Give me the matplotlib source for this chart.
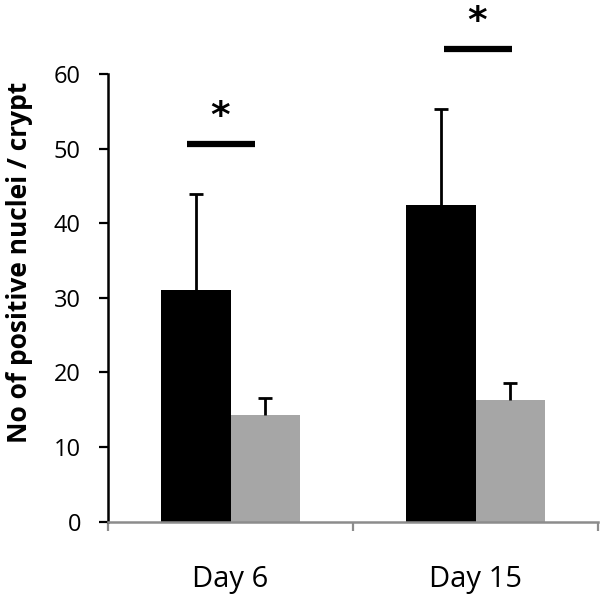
import numpy as np
import matplotlib.pyplot as plt

# dati
giorni = ['Day 6', 'Day 15']
neri = [31.0, 42.4]
neri_err = [12.9, 12.9]
grigi = [14.3, 16.3]
grigi_err = [2.3, 2.3]

# barre di significatività: (inizio, fine, altezza)
sig_x0 = [-0.176, 0.873]
sig_x1 = [0.098, 1.150]
sig_y = [50.6, 63.4]

plt.rcParams['font.family'] = ['Open Sans', 'DejaVu Sans']

fig = plt.figure(figsize=(6.0, 5.97), dpi=100)
ax = fig.add_axes([108 / 600, 1 - 521.7 / 597, (598 - 108) / 600, (521.7 - 74) / 597])

x = np.arange(len(giorni))
w = 0.284

ax.bar(x - w / 2, neri, w, color='black', zorder=2)
ax.bar(x + w / 2, grigi, w, color='#a6a6a6', zorder=2)

# solo la parte superiore dell'errore (linea + cappuccio)
for pos, m, e in [(x - w / 2, neri, neri_err), (x + w / 2, grigi, grigi_err)]:
    m = np.array(m)
    e = np.array(e)
    ax.vlines(pos, m, m + e, color='black', lw=2, zorder=3)
    ax.plot(pos, m + e, ls='none', marker='_', ms=10, mew=2, color='black', zorder=3)

# asterischi
for a, b, h in zip(sig_x0, sig_x1, sig_y):
    ax.plot([a, b], [h, h], color='black', lw=4.5, solid_capstyle='butt', clip_on=False)
    ax.text((a + b) / 2 - 0.005, h + 1.2, '*', ha='center', va='bottom',
            fontsize=27, fontweight='bold', family='DejaVu Sans', clip_on=False)

ax.set_xlim(-0.5, 1.5)
ax.set_ylim(0, 60)
ax.set_yticks(np.arange(0, 61, 10))
ax.tick_params(axis='y', direction='out', length=6.5, width=1.6, labelsize=17, pad=13)

ax.set_xticks(x)
ax.set_xticklabels(giorni)
ax.set_xticks([-0.5, 0.5, 1.5], minor=True)
ax.tick_params(axis='x', which='major', length=0, labelsize=21, pad=31)
ax.tick_params(axis='x', which='minor', direction='out', length=6.5, width=1.6, color='#8c8c8c')

for s in ['top', 'right']:
    ax.spines[s].set_visible(False)
ax.spines['left'].set_linewidth(1.8)
ax.spines['bottom'].set_linewidth(1.8)
ax.spines['bottom'].set_color('#8c8c8c')

fig.text(20 / 600, 1 - 262.5 / 597, 'No of positive nuclei / crypt', rotation=90,
         ha='center', va='center', fontsize=19, fontweight='bold')

plt.savefig('out.png', dpi=100)
